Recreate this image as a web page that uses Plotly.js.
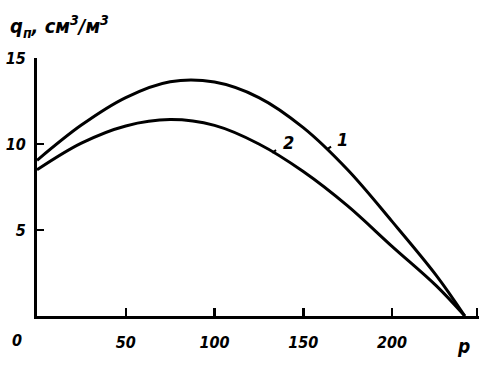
<!DOCTYPE html>
<html>
<head>
<meta charset="utf-8">
<script src="https://cdn.plot.ly/plotly-3.0.1.min.js"></script>
<style>html,body{margin:0;padding:0;background:#fff;}#chart{width:494px;height:368px;}</style>
</head>
<body>
<div id="chart"></div>
<script>
// pressure p
var pressure = [0, 25, 50, 75, 100, 125, 150, 175, 200, 225, 241];
// curve 1
var curve1 = [9.05, 11.1, 12.7, 13.62, 13.6, 12.7, 10.95, 8.5, 5.5, 2.35, 0];
// curve 2
var curve2 = [8.5, 10.05, 11.05, 11.42, 11.08, 10.0, 8.4, 6.4, 4.05, 1.75, 0];
var xTickVals = [50, 100, 150, 200, 248];
var xTickText = ['50', '100', '150', '200', ''];
var yTickVals = [5, 10, 15];
var yTickText = ['5', '10', '15'];

var fam = 'DejaVu Sans Condensed, DejaVu Sans, sans-serif';
var tickFont = {family: fam, size: 16, color: '#000', weight: 'bold', style: 'italic'};

var traces = [
  {x: pressure, y: curve1, mode: 'lines', line: {color: '#000', width: 3, shape: 'spline', smoothing: 1}, hoverinfo: 'skip'},
  {x: pressure, y: curve2, mode: 'lines', line: {color: '#000', width: 3, shape: 'spline', smoothing: 1}, hoverinfo: 'skip'}
];

var layout = {
  width: 494, height: 368,
  margin: {l: 37, r: 15, t: 58, b: 52},
  paper_bgcolor: '#fff', plot_bgcolor: '#fff',
  showlegend: false,
  xaxis: {
    range: [0, 249], showgrid: false, zeroline: false,
    showline: true, linecolor: '#000', linewidth: 3,
    ticks: 'inside', ticklen: 8, tickwidth: 2.5, tickcolor: '#000',
    tickvals: xTickVals, ticktext: xTickText,
    tickfont: tickFont, ticklabelstandoff: 10
  },
  yaxis: {
    range: [0, 15], showgrid: false, zeroline: false,
    showline: true, linecolor: '#000', linewidth: 3,
    ticks: 'inside', ticklen: 7, tickwidth: 2.5, tickcolor: '#000',
    tickvals: yTickVals, ticktext: yTickText,
    tickfont: tickFont, ticklabelstandoff: 5
  },
  annotations: [
    {xref: 'x', yref: 'y', x: 0, y: 0, xshift: -20, yshift: -24, text: '0', showarrow: false, font: tickFont},
    {xref: 'x', yref: 'y', x: 240, y: 0, yshift: -30, text: 'p', showarrow: false, font: {family: fam, size: 19, color: '#000', weight: 'bold', style: 'italic'}},
    {xref: 'paper', yref: 'paper', x: -0.065, y: 1.0, yshift: 32, xanchor: 'left', yanchor: 'middle',
     text: 'q<sub>п</sub>, см<sup>3</sup>/м<sup>3</sup>', showarrow: false,
     font: {family: fam, size: 20, color: '#000', weight: 'bold', style: 'italic'}},
    {xref: 'x', yref: 'y', x: 132.5, y: 9.5, ax: 16, ay: -10, text: '2', showarrow: true, arrowhead: 0, arrowwidth: 2, arrowcolor: '#000', standoff: 0, startstandoff: 6,
     font: {family: fam, size: 18, color: '#000', weight: 'bold', style: 'italic'}},
    {xref: 'x', yref: 'y', x: 163.5, y: 9.7, ax: 15, ay: -10, text: '1', showarrow: true, arrowhead: 0, arrowwidth: 2, arrowcolor: '#000', standoff: 0, startstandoff: 5,
     font: {family: fam, size: 18, color: '#000', weight: 'bold', style: 'italic'}}
  ]
};

Plotly.newPlot('chart', traces, layout, {staticPlot: true, displayModeBar: false});
</script>
</body>
</html>
